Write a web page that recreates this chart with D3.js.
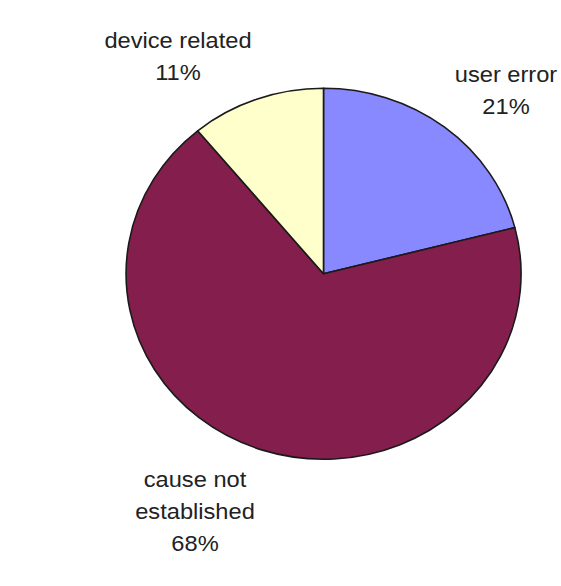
<!DOCTYPE html>
<html>
<head>
<meta charset="utf-8">
<script src="https://cdn.jsdelivr.net/npm/d3@7"></script>
<style>
  html, body { margin: 0; padding: 0; background: #fff; }
  svg { display: block; }
  text { font-family: "Liberation Sans", Arial, sans-serif; fill: #222; }
</style>
</head>
<body>
<script>
const categories = ["user error", "cause not established", "device related"];
const values = [21, 68, 11];
const colors = ["#8989ff", "#841e4d", "#ffffcc"];
const labelLines = [["user error", "21%"], ["cause not", "established", "68%"], ["device related", "11%"]];

const W = 561, H = 586;
const cx = 323.5, cy = 273.8, rx = 197.5, ry = 185.5;

const svg = d3.select("body").append("svg").attr("width", W).attr("height", H);

const pie = d3.pie().sort(null).value(d => d)(values);
const arc = d3.arc().innerRadius(0).outerRadius(1);

const g = svg.append("g").attr("transform", `translate(${cx},${cy}) scale(${rx},${ry})`);
g.selectAll("path").data(pie).join("path")
  .attr("d", arc)
  .attr("fill", (d, i) => colors[i])
  .attr("stroke", "#1a1a1a")
  .attr("stroke-width", 1.6)
  .attr("vector-effect", "non-scaling-stroke")
  .attr("stroke-linejoin", "round");

// label layout (anchor centre x, first baseline y)
const labelPos = [[506, 82], [195, 487], [178, 48]];
const lineH = 31.8;
labelLines.forEach((lines, i) => {
  const [x, y] = labelPos[i];
  const t = svg.append("text")
    .attr("transform", `translate(${x},${y}) scale(1.1,1)`)
    .attr("text-anchor", "middle")
    .attr("font-size", 21.5);
  lines.forEach((s, j) => {
    t.append("tspan").attr("x", 0).attr("y", j * lineH).text(s);
  });
});
</script>
</body>
</html>
